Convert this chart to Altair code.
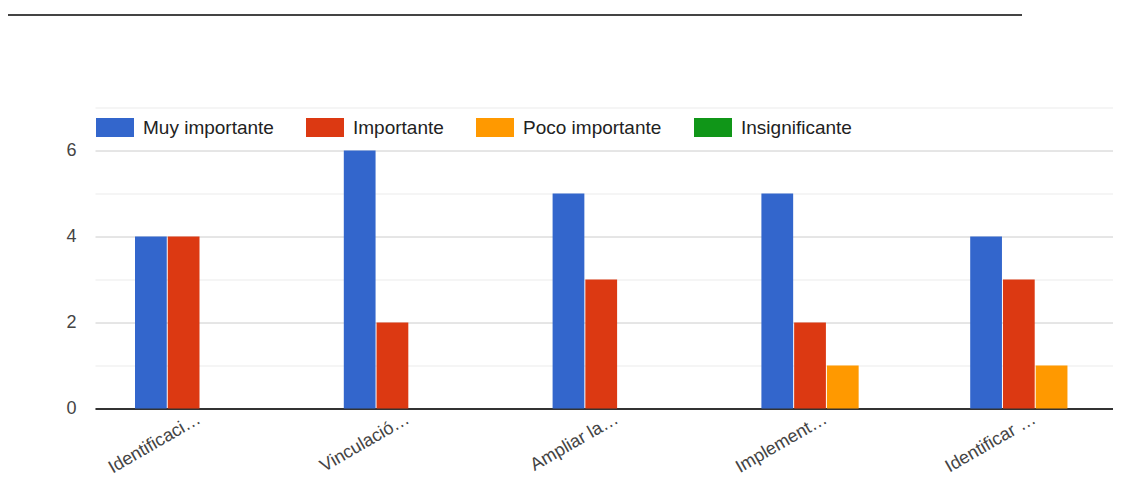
import altair as alt
import pandas as pd

categories = ["Identificaci…", "Vinculació…", "Ampliar la…", "Implement…", "Identificar …"]
series = ["Muy importante", "Importante", "Poco importante", "Insignificante"]
muy_importante = [4, 6, 5, 5, 4]
importante = [4, 2, 3, 2, 3]
poco_importante = [0, 0, 0, 1, 1]
insignificante = [0, 0, 0, 0, 0]
colors = ["#3366cc", "#dc3912", "#ff9900", "#109618"]
y_ticks = [0, 1, 2, 3, 4, 5, 6, 7]

rows = []
for s, vals in zip(series, [muy_importante, importante, poco_importante, insignificante]):
    for c, v in zip(categories, vals):
        rows.append({"categoria": c, "serie": s, "valor": v})
df = pd.DataFrame(rows)

FONT = "Liberation Sans"

bars = alt.Chart(df).mark_bar().encode(
    x=alt.X(
        "categoria:N",
        sort=categories,
        scale=alt.Scale(range=[0, 1044], paddingInner=0, paddingOuter=0),
        axis=alt.Axis(
            title=None, labelAngle=-30, labelAlign="right", labelBaseline="middle",
            labelPadding=9, labelFontSize=18, labelColor="#444", labelFont=FONT,
            ticks=False, domainColor="#333333", domainWidth=2, labelLimit=300,
        ),
    ),
    xOffset=alt.XOffset("serie:N", sort=series,
                        scale=alt.Scale(range=[40, 170], paddingInner=0.03, paddingOuter=0)),
    y=alt.Y(
        "valor:Q",
        scale=alt.Scale(domain=[0, 7], nice=False),
        axis=alt.Axis(
            title=None, values=y_ticks,
            labelExpr="datum.value % 2 == 0 ? datum.label : ''",
            ticks=False, domain=False, labelPadding=19, labelFontSize=18,
            labelColor="#444", labelFont=FONT,
            gridColor={"condition": {"test": "datum.value % 2 == 0", "value": "#cccccc"},
                       "value": "#ebebeb"},
            gridWidth=1,
        ),
    ),
    color=alt.Color(
        "serie:N",
        sort=series,
        scale=alt.Scale(domain=series, range=colors),
        legend=alt.Legend(
            title=None, orient="none", legendX=1, legendY=1, direction="horizontal",
            symbolType="M-1,-0.5H1V0.5H-1Z", symbolSize=1444, symbolStrokeWidth=0,
            symbolOpacity=1, labelFont=FONT, labelFontSize=19, labelColor="#222222",
            labelOffset=9, columnPadding=32, padding=0, labelLimit=300,
        ),
    ),
)

top_line = alt.Chart(pd.DataFrame({"a": [0]})).mark_rule(
    color="#444444", strokeWidth=2
).encode(x=alt.value(-95), x2=alt.value(927), y=alt.value(-92.5))

chart = alt.layer(bars, top_line).properties(
    width=1018,
    height=301,
    autosize=alt.AutoSizeParams(type="none"),
    padding={"left": 87, "top": 99.5, "right": 0, "bottom": 68},
    background="white",
).configure_view(stroke=None)

chart.save("out.html", embed_options={"renderer": "svg", "actions": False})
